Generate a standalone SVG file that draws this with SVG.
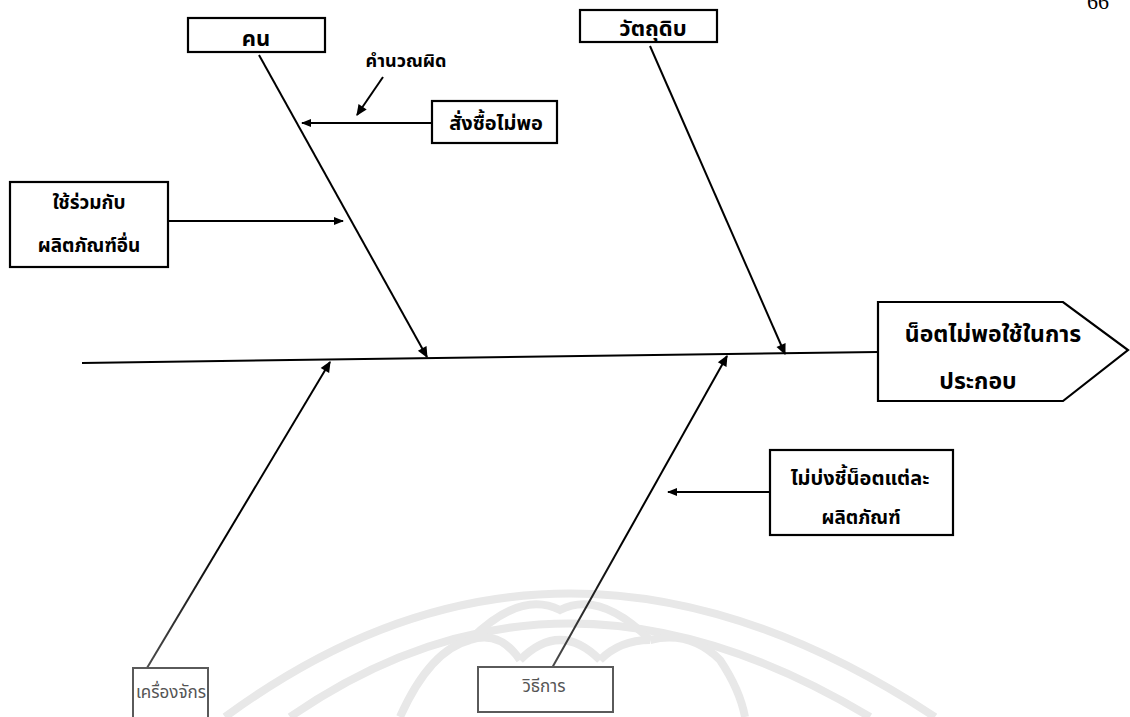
<svg xmlns="http://www.w3.org/2000/svg" width="1130" height="717" viewBox="0 0 1130 717">
  <style>
    .box { fill: #fff; stroke: #000; stroke-width: 2.2; }
    .box-lo { fill: #fff; stroke: #5a5a5a; stroke-width: 2; }
    .lbl { font-family: "Noto Sans Thai", "Noto Sans", "DejaVu Sans", sans-serif; font-size: 19px; font-weight: bold; fill: #000; text-anchor: middle; }
    .lbl-lo { fill: #555; font-weight: normal; font-size: 17px; }
    .bone { stroke: #000; stroke-width: 2; fill: none; }
    .bone-lo { stroke: url(#fade); stroke-width: 2; fill: none; }
    .wm { fill: none; stroke: #e8e8e8; stroke-width: 8; }
  </style>
  <defs>
    <marker id="ah" viewBox="0 0 10 10" refX="9" refY="5" markerWidth="10" markerHeight="10" markerUnits="userSpaceOnUse" orient="auto">
      <path d="M0,1 L10,5 L0,9 Z" fill="#000"/>
    </marker>
    <marker id="ah-big" viewBox="0 0 10 10" refX="9" refY="5" markerWidth="13" markerHeight="11" markerUnits="userSpaceOnUse" orient="auto">
      <path d="M0,0.5 L10,5 L0,9.5 Z" fill="#000"/>
    </marker>
    <linearGradient id="fade" gradientUnits="userSpaceOnUse" x1="0" y1="717" x2="0" y2="540">
      <stop offset="0" stop-color="#6a6a6a"/>
      <stop offset="1" stop-color="#000"/>
    </linearGradient>
  </defs>

  <rect width="1130" height="717" fill="#fff"/>

  <!-- faint emblem in the lower middle -->
  <g id="emblem">
    <path class="wm" d="M225,717 Q560,470 935,717"/>
    <path class="wm" d="M290,717 Q560,530 870,717"/>
    <path class="wm" d="M400,717 Q430,650 470,640 Q500,630 520,660"/>
    <path class="wm" d="M470,640 Q520,590 560,610 Q600,590 650,640"/>
    <path class="wm" d="M650,640 Q690,630 720,660 Q740,690 745,717"/>
    <path class="wm" d="M520,660 Q560,620 600,660"/>
    <path class="wm" d="M600,660 Q620,640 650,640"/>
  </g>

  <!-- page number, cut at the top edge -->
  <text x="1098" y="9" style="font-family:'Liberation Serif',serif;font-size:22px;text-anchor:middle;fill:#000">66</text>

  <!-- bones and arrows -->
  <g id="connectors">
    <line class="bone" x1="82" y1="363" x2="878" y2="352"/>
    <line class="bone" x1="259" y1="55" x2="427" y2="357" marker-end="url(#ah-big)"/>
    <line class="bone" x1="650" y1="46" x2="785" y2="354" marker-end="url(#ah-big)"/>
    <line class="bone-lo" x1="147" y1="668" x2="330" y2="362" marker-end="url(#ah-big)"/>
    <line class="bone-lo" x1="552" y1="668" x2="727" y2="356" marker-end="url(#ah-big)"/>
    <line class="bone" x1="432" y1="123" x2="302" y2="123" marker-end="url(#ah)"/>
    <line class="bone" x1="383" y1="77" x2="357" y2="115" stroke-width="2.5" marker-end="url(#ah-big)"/>
    <line class="bone" x1="168" y1="221" x2="343" y2="221" marker-end="url(#ah)"/>
    <line class="bone" x1="770" y1="492" x2="668" y2="492" marker-end="url(#ah)"/>
  </g>

  <g id="man">
    <rect class="box" x="188" y="18" width="137" height="34"/>
    <text class="lbl" x="256" y="46" style="font-size:22px">คน</text>
  </g>

  <g id="material">
    <rect class="box" x="580" y="10" width="137" height="32"/>
    <text class="lbl" x="653" y="36" style="font-size:22px">วัตถุดิบ</text>
  </g>

  <g id="miscalc">
    <text class="lbl" x="406" y="67" style="font-size:18px">คำนวณผิด</text>
  </g>

  <g id="order-short">
    <rect class="box" x="432" y="101" width="125" height="42"/>
    <text class="lbl" x="496" y="130" style="font-size:20px">สั่งซื้อไม่พอ</text>
  </g>

  <g id="shared-use">
    <rect class="box" x="10" y="182" width="158" height="85"/>
    <text class="lbl" x="89" y="209">ใช้ร่วมกับ</text>
    <text class="lbl" x="89" y="252">ผลิตภัณฑ์อื่น</text>
  </g>

  <g id="problem">
    <path class="box" d="M878,302 L1063,302 L1128,350 L1063,401 L878,401 Z"/>
    <text class="lbl" x="993" y="342" style="font-size:23px">น็อตไม่พอใช้ในการ</text>
    <text class="lbl" x="978" y="389" style="font-size:23px">ประกอบ</text>
  </g>

  <g id="no-label">
    <rect class="box" x="770" y="450" width="183" height="85"/>
    <text class="lbl" x="860" y="485" style="font-size:20px">ไม่บ่งชี้น็อตแต่ละ</text>
    <text class="lbl" x="861" y="524">ผลิตภัณฑ์</text>
  </g>

  <g id="machine">
    <rect class="box-lo" x="133" y="668" width="75" height="60"/>
    <text class="lbl lbl-lo" x="171" y="698">เครื่องจักร</text>
  </g>

  <g id="method">
    <rect class="box-lo" x="478" y="667" width="135" height="45"/>
    <text class="lbl lbl-lo" x="544" y="692">วิธีการ</text>
  </g>
</svg>
